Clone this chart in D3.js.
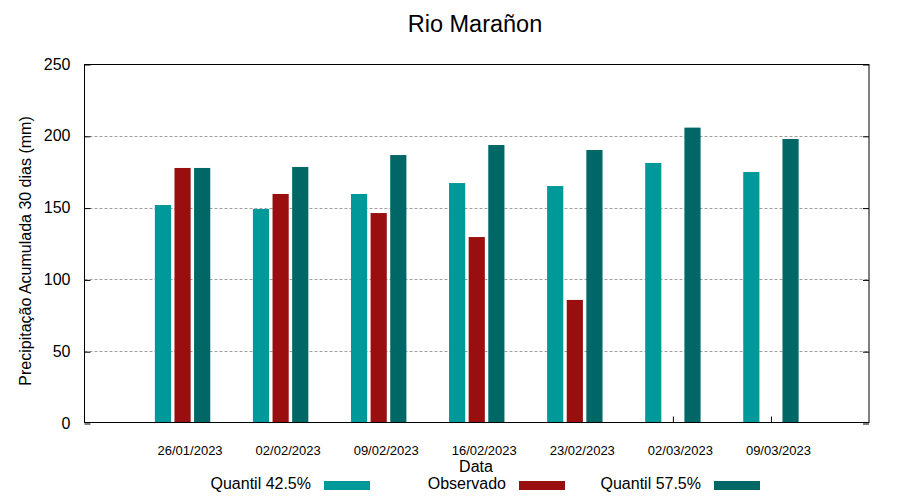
<!DOCTYPE html>
<html>
<head>
<meta charset="utf-8">
<script src="https://cdn.jsdelivr.net/npm/d3@7"></script>
<style>
  body { margin: 0; background: #fff; }
  text { font-family: "Liberation Sans", Arial, sans-serif; }
</style>
</head>
<body>
<svg id="canvas"></svg>
<script>
let dates = ["26/01/2023", "02/02/2023", "09/02/2023", "16/02/2023", "23/02/2023", "02/03/2023", "09/03/2023"];
let q425 = [151.8, 149.0, 159.5, 167.1, 165.0, 181.1, 174.8];
let observado = [177.6, 159.5, 146.2, 129.5, 85.7, null, null];
let q575 = [177.6, 178.3, 186.6, 193.6, 190.1, 205.7, 197.8];
let yTicks = [0, 50, 100, 150, 200, 250];
let gridTicks = [50, 100, 150, 200];

let series = [
  { name: "Quantil 42.5%", values: q425, color: "#009999", offset: -0.2 },
  { name: "Observado", values: observado, color: "#990e0e", offset: 0 },
  { name: "Quantil 57.5%", values: q575, color: "#006767", offset: 0.2 }
];

let width = 900;
let height = 500;
let plotLeft = 84.5, plotRight = 869, plotTop = 64, plotBottom = 423;
let barW = 0.165;

let canvas = d3.select("#canvas").attr("width", width).attr("height", height);

let xScale = d3.scaleLinear().domain([0, 8]).range([plotLeft, plotRight]);
let yScale = d3.scaleLinear().domain([0, 250]).range([plotBottom, plotTop]);

// grid
canvas.append("g")
  .selectAll("line")
  .data(gridTicks)
  .enter()
  .append("line")
  .attr("x1", plotLeft)
  .attr("x2", plotRight)
  .attr("y1", (d) => Math.round(yScale(d)) + 0.5)
  .attr("y2", (d) => Math.round(yScale(d)) + 0.5)
  .attr("stroke", "#a0a0a0")
  .attr("stroke-width", 1)
  .attr("stroke-dasharray", "3,2");

// bottom ticks (under bars)
let xAxis = d3.axisBottom(xScale)
  .tickValues(d3.range(1, dates.length + 1))
  .tickFormat((d) => dates[d - 1])
  .tickSizeInner(-6)
  .tickSizeOuter(0)
  .tickPadding(23);

let gx = canvas.append("g")
  .attr("transform", "translate(0," + (plotBottom - 0.5) + ")")
  .call(xAxis);
gx.select(".domain").remove();
gx.selectAll("line").attr("stroke", "#000");
gx.selectAll("text")
  .attr("dx", 7)
  .attr("font-size", 13)
  .attr("fill", "#000")
  .style("font-family", "Liberation Sans, Arial, sans-serif");

// bars
series.forEach((s) => {
  canvas.append("g")
    .selectAll("rect")
    .data(s.values.map((v, i) => ({ v: v, i: i })).filter((d) => d.v != null))
    .enter()
    .append("rect")
    .attr("x", (d) => xScale(d.i + 1 + s.offset - barW / 2))
    .attr("width", xScale(barW) - xScale(0))
    .attr("y", (d) => yScale(d.v))
    .attr("height", (d) => yScale(0) - yScale(d.v))
    .attr("fill", s.color);
});

// y axis left
let yAxis = d3.axisLeft(yScale)
  .tickValues(yTicks)
  .tickSizeInner(-6)
  .tickSizeOuter(0)
  .tickPadding(14);
let gy = canvas.append("g")
  .attr("transform", "translate(" + plotLeft + ",0)")
  .call(yAxis);
gy.select(".domain").remove();
gy.selectAll("line").attr("stroke", "#000").attr("transform", "translate(0,0.5)");
gy.selectAll("text")
  .attr("font-size", 16)
  .attr("fill", "#000")
  .style("font-family", "Liberation Sans, Arial, sans-serif");

// y axis right mirror ticks
let yAxisR = d3.axisRight(yScale)
  .tickValues(yTicks)
  .tickSizeInner(-6)
  .tickSizeOuter(0)
  .tickFormat("");
let gyr = canvas.append("g")
  .attr("transform", "translate(" + plotRight + ",0)")
  .call(yAxisR);
gyr.select(".domain").remove();
gyr.selectAll("line").attr("stroke", "#000").attr("transform", "translate(0,0.5)");

// frame
canvas.append("rect")
  .attr("x", plotLeft)
  .attr("y", plotTop + 0.5)
  .attr("width", plotRight - plotLeft)
  .attr("height", plotBottom - plotTop - 1)
  .attr("fill", "none")
  .attr("stroke", "#000")
  .attr("stroke-width", 1);

// title
canvas.append("text")
  .attr("x", 475)
  .attr("y", 32)
  .attr("text-anchor", "middle")
  .attr("font-size", 23.5)
  .text("Rio Marañon");

// y label
canvas.append("text")
  .attr("transform", "translate(31,251) rotate(-90)")
  .attr("text-anchor", "middle")
  .attr("font-size", 16)
  .text("Precipitação Acumulada 30 dias (mm)");

// x label
canvas.append("text")
  .attr("x", 476)
  .attr("y", 472)
  .attr("text-anchor", "middle")
  .attr("font-size", 16)
  .text("Data");

// legend
let legendX = [324, 519, 714];
let legend = canvas.append("g")
  .selectAll("g")
  .data(series)
  .enter()
  .append("g")
  .attr("transform", (d, i) => "translate(" + legendX[i] + ",0)");

legend.append("text")
  .attr("x", -13)
  .attr("y", 489)
  .attr("text-anchor", "end")
  .attr("font-size", 16)
  .text((d) => d.name);

legend.append("rect")
  .attr("x", 0)
  .attr("y", 481)
  .attr("width", 46)
  .attr("height", 9)
  .attr("fill", (d) => d.color);
</script>
</body>
</html>
